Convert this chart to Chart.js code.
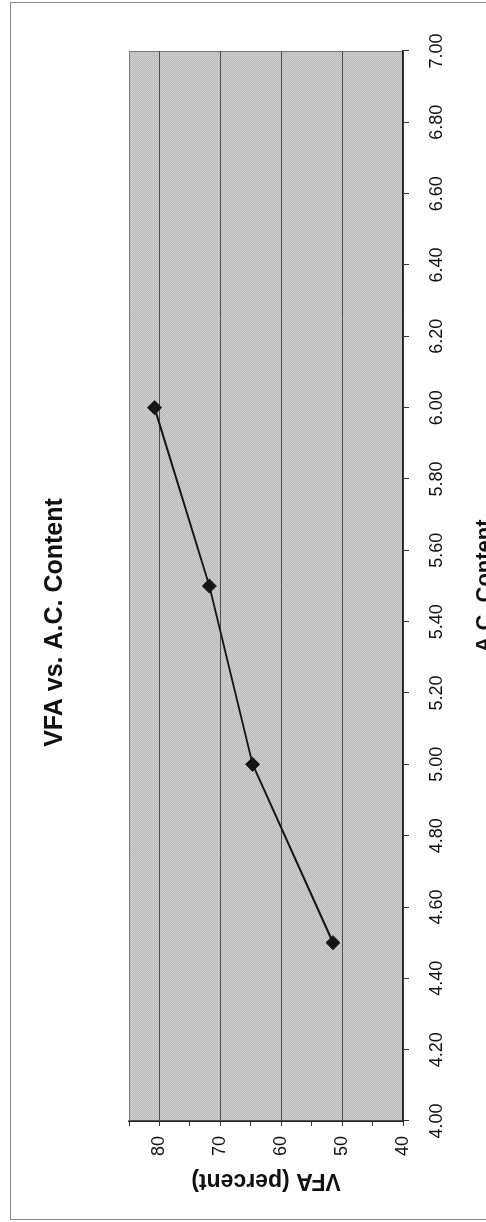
<!DOCTYPE html>
<html><head><meta charset="utf-8">
<script src="https://cdn.jsdelivr.net/npm/chart.js@4.4.1/dist/chart.umd.min.js"></script>
<style>
html,body{margin:0;padding:0;background:#fff;overflow:hidden;width:486px;height:1222px;}
#wrap{position:absolute;left:0;top:0;width:1222px;height:500px;transform-origin:0 0;transform:translateY(1222px) rotate(-90deg);}
canvas{display:block;}
</style></head><body>
<div id="wrap"><canvas id="c" width="1222" height="500"></canvas></div>
<script>
// Data
const acContent = [4.5, 5.0, 5.5, 6.0];
const vfaPercent = [51.5, 64.7, 71.8, 80.8];
const xTickValues = [4.0, 4.2, 4.4, 4.6, 4.8, 5.0, 5.2, 5.4, 5.6, 5.8, 6.0, 6.2, 6.4, 6.6, 6.8, 7.0];
const yTickValues = [40, 45, 50, 55, 60, 65, 70, 75, 80, 85];
const yLabeledTicks = [40, 50, 60, 70, 80];

const FONT = "'Liberation Sans', Arial, sans-serif";

function makePattern(ctx) {
  const p = document.createElement('canvas');
  p.width = 2; p.height = 2;
  const c = p.getContext('2d');
  c.fillStyle = '#cfcfcf'; c.fillRect(0, 0, 2, 2);
  c.fillStyle = '#b9b9b9'; c.fillRect(0, 0, 1, 1); c.fillRect(1, 1, 1, 1);
  return ctx.createPattern(p, 'repeat');
}

const framePlugin = {
  id: 'frame',
  beforeDraw(chart) {
    const ctx = chart.ctx, a = chart.chartArea;
    ctx.save();
    ctx.fillStyle = '#fff';
    ctx.fillRect(0, 0, chart.width, chart.height);
    ctx.strokeStyle = '#8a8a8a';
    ctx.lineWidth = 1;
    ctx.strokeRect(2.5, 10.5, 1217, 600);
    ctx.fillStyle = makePattern(ctx);
    ctx.fillRect(a.left, a.top, a.right - a.left, a.bottom - a.top);
    ctx.strokeStyle = '#7a7a7a';
    ctx.strokeRect(a.left + 0.5, a.top + 0.5, a.right - a.left - 1, a.bottom - a.top);
    ctx.restore();
  }
};

new Chart(document.getElementById('c'), {
  type: 'scatter',
  data: {
    datasets: [{
      data: acContent.map((x, i) => ({ x: x, y: vfaPercent[i] })),
      showLine: true,
      borderColor: '#151515',
      borderWidth: 2,
      pointStyle: 'rectRot',
      pointRadius: 7,
      pointBackgroundColor: '#151515',
      pointBorderColor: '#151515',
      pointBorderWidth: 1
    }]
  },
  options: {
    responsive: false,
    animation: false,
    layout: { padding: { left: 28, right: 51, top: 0, bottom: 0 } },
    plugins: {
      legend: { display: false },
      tooltip: { enabled: false },
      title: {
        display: true,
        text: 'VFA vs. A.C. Content',
        color: '#111',
        font: { family: FONT, size: 25, weight: 'bold' },
        padding: { top: 40, bottom: 59 }
      }
    },
    scales: {
      x: {
        type: 'linear',
        min: 4, max: 7,
        afterBuildTicks: s => { s.ticks = xTickValues.map(v => ({ value: v })); },
        afterFit: s => { s.height = 97; },
        grid: { drawOnChartArea: false, drawTicks: true, tickLength: 6, tickColor: '#333' },
        border: { display: true, color: '#222', width: 1.5 },
        ticks: {
          color: '#111', padding: 17, maxRotation: 0, autoSkip: false,
          font: { family: FONT, size: 18 },
          callback: v => Number(v).toFixed(2)
        },
        title: {
          display: true, text: 'A.C. Content', color: '#111',
          font: { family: FONT, size: 22, weight: 'bold' },
          padding: { top: 0, bottom: 2 }
        }
      },
      y: {
        type: 'linear',
        min: 40, max: 85,
        afterBuildTicks: s => { s.ticks = yTickValues.map(v => ({ value: v })); },
        afterFit: s => { s.width = 73; },
        grid: {
          drawTicks: true, tickLength: 5, tickColor: '#333',
          color: c => {
            const v = c.tick ? c.tick.value : 0;
            if (v === 85) return '#7a7a7a';
            return yLabeledTicks.includes(v) ? '#4d4d4d' : 'rgba(0,0,0,0)';
          },
          lineWidth: 1
        },
        border: { display: true, color: '#222', width: 1.5 },
        ticks: {
          color: '#111', padding: 10, autoSkip: false,
          font: { family: FONT, size: 18 },
          callback: v => yLabeledTicks.includes(v) ? String(v) : ''
        },
        title: {
          display: true, text: 'VFA (percent)', color: '#111',
          font: { family: FONT, size: 23, weight: 'bold' },
          padding: { top: 0, bottom: 0 }
        }
      }
    }
  },
  plugins: [framePlugin]
});
</script>
</body></html>
